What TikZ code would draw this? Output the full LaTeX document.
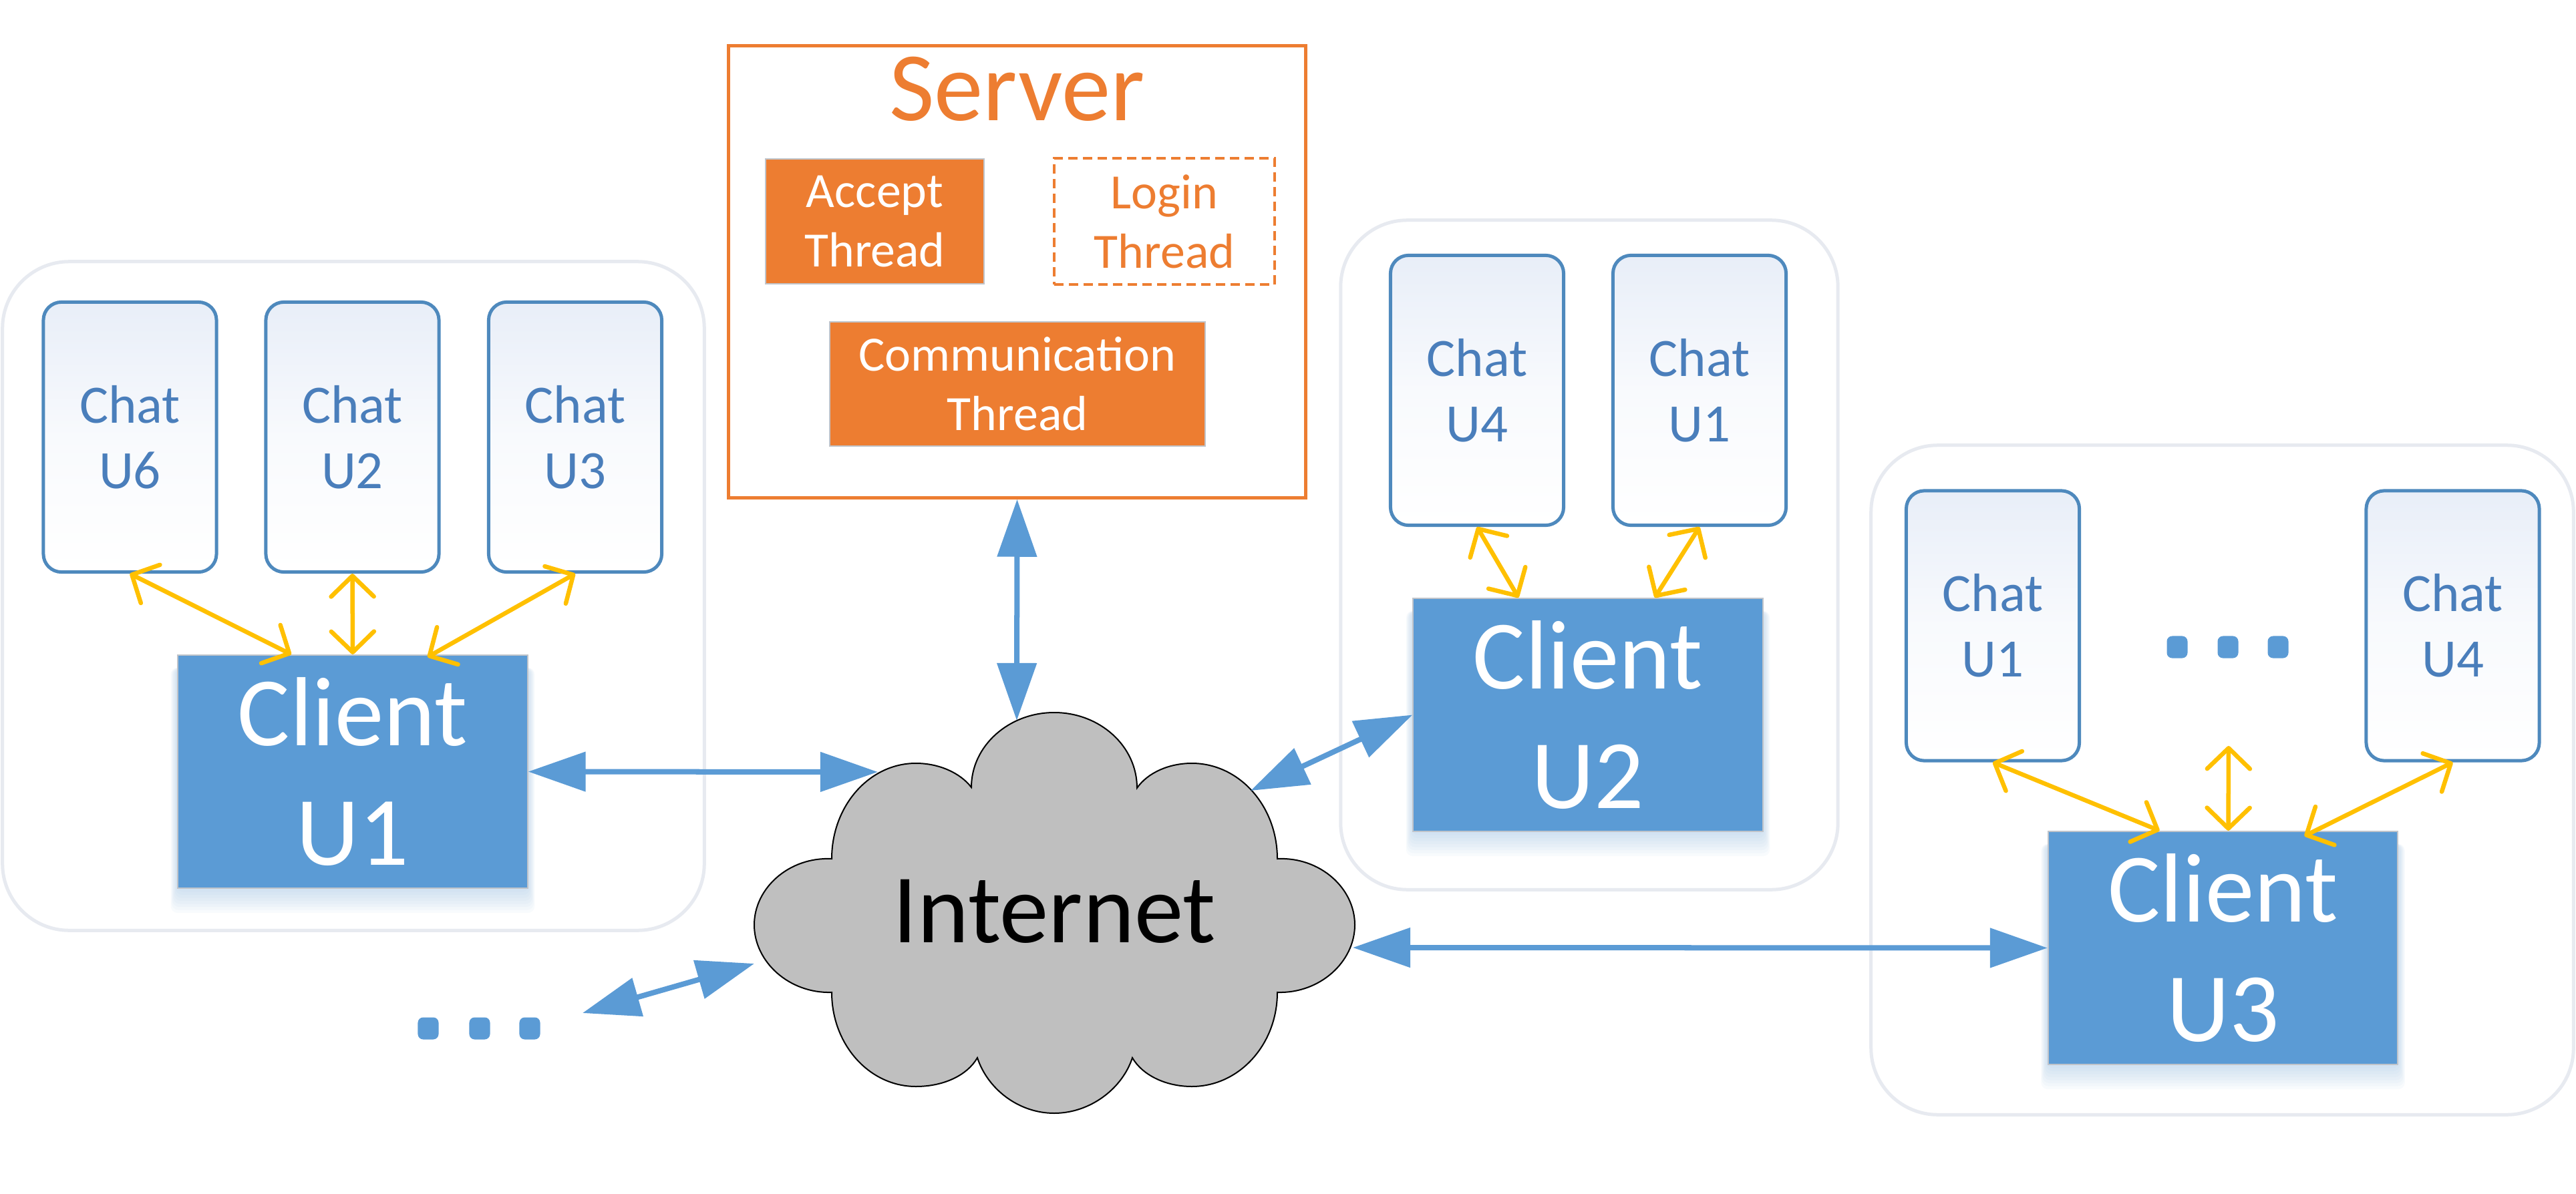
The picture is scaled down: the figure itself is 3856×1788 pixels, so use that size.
\documentclass[tikz,border=0pt]{standalone}
\usepackage{fontspec}
\setmainfont{Carlito}
\usetikzlibrary{arrows.meta,calc}
\definecolor{cBlue}{RGB}{91,155,213}
\definecolor{cOrange}{RGB}{237,125,49}
\definecolor{cYellow}{RGB}{255,192,0}
\definecolor{cChatBorder}{RGB}{78,137,189}
\definecolor{cChatText}{RGB}{74,126,187}
\definecolor{cChatTop}{RGB}{232,238,248}
\definecolor{cGroup}{RGB}{231,234,240}
\definecolor{cCloud}{RGB}{191,191,191}
\definecolor{cEdge}{RGB}{192,196,202}
\definecolor{cShadowB}{RGB}{150,188,228}
\definecolor{cShadowO}{RGB}{240,165,120}
\pgfdeclarelayer{bg}
\pgfsetlayers{bg,main}
\newcommand\myshadow[2]{%
  \begin{pgfonlayer}{bg}
    \foreach \k in {1,...,8}{
      \fill[#2,opacity=0.06,rounded corners=0.1cm]
        ($(#1.north west)+(-\k*1.2,20)$) rectangle ($(#1.south east)+(\k*1.2,\k*4.5)$);
    }
  \end{pgfonlayer}}
\begin{document}
\begin{tikzpicture}[x=0.01cm,y=-0.01cm,
  groupbox/.style={draw=cGroup,line width=0.05cm,rounded corners=1cm,inner sep=0pt},
  chatbox/.style={draw=cChatBorder,line width=0.05cm,rounded corners=0.27cm,
    top color=cChatTop,bottom color=white,middle color=white!70!cChatTop,
    minimum width=2.59cm,minimum height=4.04cm,inner sep=0pt,align=center,
    text=cChatText,font=\fontsize{23}{27.9}\selectfont},
  clientbox/.style={draw=cEdge,line width=0.02cm,fill=cBlue,text=white,
    minimum width=5.23cm,minimum height=3.49cm,inner sep=0pt,align=center,
    font=\fontsize{41.8}{50.9}\selectfont},
  threadbox/.style={draw=cEdge,line width=0.02cm,fill=cOrange,text=white,
    inner sep=0pt,align=center,font=\fontsize{21}{25.3}\selectfont},
  loginbox/.style={draw=cOrange,line width=0.04cm,dash pattern=on 0.14cm off 0.08cm,
    text=cOrange,inner sep=0pt,align=center,font=\fontsize{21}{25.3}\selectfont},
  serverbox/.style={draw=cOrange,line width=0.05cm,fill=white,inner sep=0pt},
  dotbox/.style={fill=cBlue,rounded corners=0.08cm,minimum width=0.31cm,minimum height=0.33cm,inner sep=0pt},
  barrow/.style={draw=cBlue,line width=0.08cm,
    {Triangle[length=0.86cm,width=0.58cm]}-{Triangle[length=0.86cm,width=0.58cm]}},
  yarrow/.style={draw=cYellow,line width=0.065cm,line cap=round,line join=round,
    {Straight Barb[length=0.31cm,width=0.64cm,round]}-{Straight Barb[length=0.31cm,width=0.64cm,round]}},
  bigtext/.style={font=\fontsize{41.8}{50.9}\selectfont,inner sep=0pt}
]
\begin{pgfonlayer}{bg}
  \fill[white] (0,0) rectangle (3856,1788);
\end{pgfonlayer}
\useasboundingbox (0,0) rectangle (3856,1788);

% group boxes
\node[groupbox,minimum width=10.50cm,minimum height=10.01cm] (gL) at (529,892.5) {};
\node[groupbox,minimum width=7.44cm,minimum height=10.02cm] (gM) at (2379,831) {};
\node[groupbox,minimum width=10.51cm,minimum height=10.02cm] (gR) at (3326.5,1168) {};

% server
\node[serverbox,minimum width=8.63cm,minimum height=6.76cm] (srv) at (1522.5,407) {};
\node[bigtext,text=cOrange,anchor=base] (srvT) at (1522.5,181) {Server};
\node[threadbox,minimum width=3.27cm,minimum height=1.87cm] (acc) at (1309.5,331.5) {Accept\\Thread};
\node[loginbox,minimum width=3.30cm,minimum height=1.89cm] (log) at (1743,331.5) {Login\\Thread};
\node[threadbox,minimum width=5.62cm,minimum height=1.86cm] (com) at (1523,575) {Communication\\Thread};
\myshadow{acc}{cShadowO}
\myshadow{com}{cShadowO}

% left group
\node[chatbox] (cU6) at (194.5,654.5) {Chat\\U6};
\node[chatbox] (cU2) at (527.5,654.5) {Chat\\U2};
\node[chatbox] (cU3) at (861,654.5) {Chat\\U3};
\node[clientbox] (clU1) at (528,1155.5) {Client\\U1};
\myshadow{clU1}{cShadowB}

% middle group
\node[chatbox] (cU4b) at (2211,584.5) {Chat\\U4};
\node[chatbox] (cU1b) at (2544,584.5) {Chat\\U1};
\node[clientbox] (clU2) at (2377,1070.5) {Client\\U2};
\myshadow{clU2}{cShadowB}

% right group
\node[chatbox] (cU1c) at (2983,937) {Chat\\U1};
\node[chatbox] (cU4c) at (3671.5,937) {Chat\\U4};
\node[clientbox] (clU3) at (3327.5,1419.5) {Client\\U3};
\myshadow{clU3}{cShadowB}
\node[dotbox] (rd1) at (3259,969) {};
\node[dotbox] (rd2) at (3335,969) {};
\node[dotbox] (rd3) at (3410,969) {};

% bottom-left dots
\node[dotbox] (ld1) at (641,1540) {};
\node[dotbox] (ld2) at (718,1540) {};
\node[dotbox] (ld3) at (793,1540) {};

% cloud
\draw[fill=cCloud,draw=black,line width=0.02cm] (1454,1179)
 .. controls (1454,1117) and (1510,1067) .. (1578,1067)
 .. controls (1646,1067) and (1702,1117) .. (1702,1180)
 .. controls (1718,1157) and (1750,1143) .. (1784,1143)
 .. controls (1855,1143) and (1912,1207) .. (1912,1286)
 .. controls (1976,1283) and (2028,1330) .. (2028,1385)
 .. controls (2028,1440) and (1976,1488) .. (1912,1486)
 .. controls (1912,1564) and (1855,1627) .. (1784,1627)
 .. controls (1745,1627) and (1710,1610) .. (1695,1584)
 .. controls (1680,1630) and (1632,1667) .. (1578,1667)
 .. controls (1524,1667) and (1478,1630) .. (1463,1584)
 .. controls (1448,1610) and (1413,1627) .. (1371,1627)
 .. controls (1301,1627) and (1245,1564) .. (1245,1486)
 .. controls (1181,1488) and (1129,1440) .. (1129,1385)
 .. controls (1129,1330) and (1181,1283) .. (1245,1286)
 .. controls (1245,1207) and (1301,1143) .. (1371,1143)
 .. controls (1405,1143) and (1437,1157) .. (1454,1179) -- cycle;
\node[bigtext,text=black] (inet) at (1578,1365) {Internet};

\coordinate (cT) at (1522,1079);
\coordinate (cL1) at (1314,1156);
\coordinate (cR2) at (1872,1184);
\coordinate (cR3) at (2025,1419);
\coordinate (cBL) at (1129,1443);
\coordinate (dA) at (872,1517);
\coordinate (mTop) at (3336,1117);

% blue connectors
\draw[barrow] (clU1.east) -- (cL1);
\draw[barrow] (srv.south) -- (cT);
\draw[barrow] (cR2) -- (clU2.west);
\draw[barrow] (cR3) -- (clU3.west);
\draw[barrow] (dA) -- (cBL);

% yellow connectors
\draw[yarrow] (cU6.south) -- ($(clU1.north)+(-92,0)$);
\draw[yarrow] (cU2.south) -- (clU1.north);
\draw[yarrow] (cU3.south) -- ($(clU1.north)+(112,4)$);
\draw[yarrow] (cU4b.south) -- ($(clU2.north)+(-104,0)$);
\draw[yarrow] (cU1b.south) -- ($(clU2.north)+(100,0)$);
\draw[yarrow] (cU1c.south) -- ($(clU3.north)+(-95,0)$);
\draw[yarrow] (mTop) -- ($(clU3.north)+(8,0)$);
\draw[yarrow] (cU4c.south) -- ($(clU3.north)+(122,8)$);
\end{tikzpicture}
\end{document}
